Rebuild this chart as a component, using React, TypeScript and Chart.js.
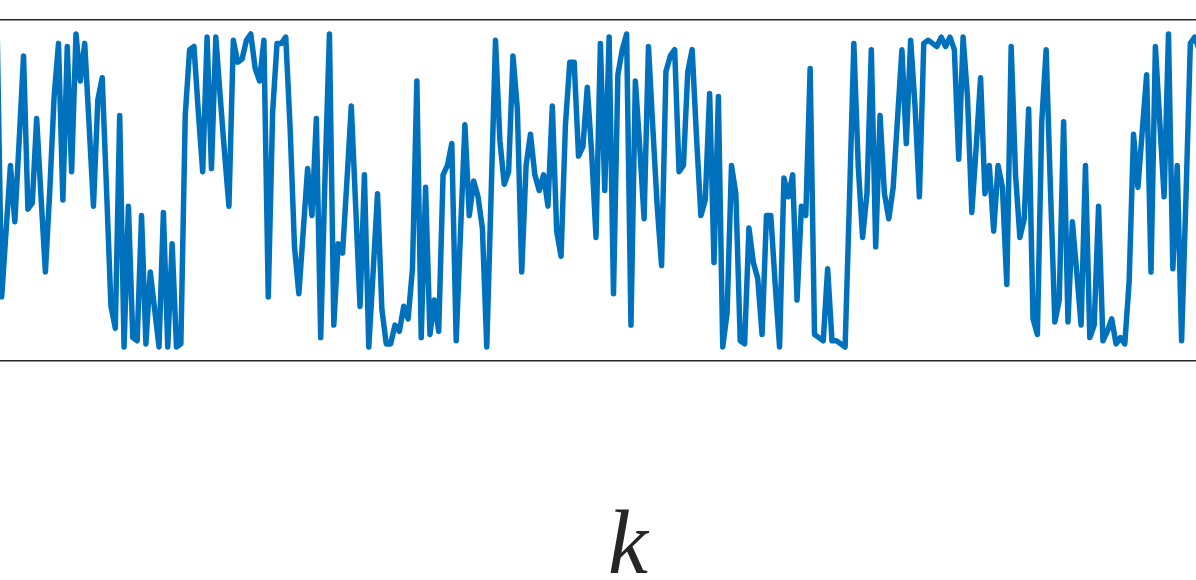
import React, { useEffect, useRef } from "react";
import { Chart, registerables } from "chart.js";

Chart.register(...registerables);

// Series values (k = 0, 1, 2, ...)
const seriesValues: number[] = [
  0.98, 0.16, 0.37, 0.58, 0.40, 0.66, 0.93, 0.44, 0.46, 0.73,
  0.48, 0.24, 0.50, 0.80, 0.97, 0.47, 0.96, 0.56, 1.00, 0.85,
  0.97, 0.71, 0.45, 0.79, 0.86, 0.50, 0.13, 0.06, 0.74, 0.00,
  0.45, 0.03, 0.02, 0.42, 0.01, 0.24, 0.12, 0.00, 0.43, 0.00,
  0.33, 0.00, 0.01, 0.74, 0.95, 0.96, 0.75, 0.56, 0.99, 0.57,
  0.99, 0.80, 0.62, 0.45, 0.98, 0.91, 0.92, 0.98, 1.00, 0.89,
  0.85, 0.98, 0.16, 0.75, 0.97, 0.97, 0.99, 0.70, 0.32, 0.17,
  0.37, 0.57, 0.42, 0.73, 0.03, 0.55, 1.00, 0.07, 0.33, 0.30,
  0.53, 0.77, 0.45, 0.13, 0.55, 0.00, 0.24, 0.49, 0.12, 0.01,
  0.01, 0.07, 0.05, 0.13, 0.09, 0.25, 0.85, 0.03, 0.51, 0.04,
  0.15, 0.05, 0.55, 0.58, 0.65, 0.02, 0.37, 0.71, 0.42, 0.53,
  0.48, 0.38, 0.00, 0.49, 0.98, 0.66, 0.52, 0.56, 0.93, 0.76,
  0.24, 0.58, 0.68, 0.55, 0.50, 0.55, 0.45, 0.77, 0.37, 0.29,
  0.71, 0.91, 0.91, 0.61, 0.64, 0.83, 0.62, 0.35, 0.97, 0.50,
  0.99, 0.17, 0.87, 0.95, 1.00, 0.07, 0.85, 0.64, 0.41, 0.96,
  0.70, 0.45, 0.26, 0.88, 0.93, 0.95, 0.56, 0.58, 0.88, 0.95,
  0.67, 0.42, 0.47, 0.81, 0.27, 0.80, 0.00, 0.11, 0.58, 0.49,
  0.02, 0.01, 0.38, 0.27, 0.22, 0.04, 0.42, 0.42, 0.20, 0.00,
  0.54, 0.48, 0.55, 0.15, 0.45, 0.42, 0.89, 0.04, 0.03, 0.02,
  0.25, 0.02, 0.02, 0.01, 0.00, 0.47, 0.97, 0.58, 0.35, 0.49,
  0.95, 0.32, 0.74, 0.49, 0.41, 0.51, 0.73, 0.95, 0.65, 0.98,
  0.77, 0.48, 0.97, 0.98, 0.97, 0.96, 0.99, 0.96, 0.99, 0.95,
  0.60, 0.99, 0.80, 0.43, 0.64, 0.86, 0.49, 0.58, 0.37, 0.58,
  0.51, 0.20, 0.96, 0.55, 0.35, 0.41, 0.76, 0.09, 0.04, 0.72,
  0.95, 0.50, 0.08, 0.15, 0.72, 0.08, 0.40, 0.24, 0.07, 0.58,
  0.03, 0.07, 0.45, 0.02, 0.05, 0.09, 0.01, 0.03, 0.01, 0.21,
  0.68, 0.51, 0.69, 0.87, 0.24, 0.96, 0.72, 0.48, 1.00, 0.25,
  0.58, 0.02, 0.48, 0.97, 0.99, 0.95,
];

// Category positions (k index of each value)
const kCategories: number[] = seriesValues.map((_, i) => i);

const xAxisTitle = "k";

const CANVAS_W = 1256;
const CANVAS_H = 620;

export default function App() {
  const canvasRef = useRef<HTMLCanvasElement | null>(null);

  useEffect(() => {
    const canvas = canvasRef.current;
    if (!canvas) return;
    const points = kCategories.map((k, i) => ({ x: k, y: seriesValues[i] }));
    const xMin = 0.611;
    const xMax = xMin + CANVAS_W / 4.37;
    const chart = new Chart(canvas, {
      type: "line",
      data: {
        datasets: [
          {
            data: points,
            borderColor: "#0072BD",
            backgroundColor: "#0072BD",
            borderWidth: 5.5,
            pointRadius: 0,
            tension: 0,
            borderJoinStyle: "round",
            borderCapStyle: "round",
            fill: false,
          },
        ],
      },
      options: {
        animation: false,
        responsive: false,
        devicePixelRatio: 1,
        layout: { padding: { top: 20, left: 0, right: 0, bottom: 0 } },
        plugins: {
          legend: { display: false },
          tooltip: { enabled: false },
        },
        scales: {
          x: {
            type: "linear",
            position: "bottom",
            min: xMin,
            max: xMax,
            ticks: { display: false },
            grid: { display: false, drawTicks: false },
            border: { display: true, color: "#262626", width: 1.5 },
            title: {
              display: true,
              text: xAxisTitle,
              color: "#262626",
              font: {
                family: "'Liberation Serif', 'DejaVu Serif', serif",
                style: "italic",
                size: 90,
                lineHeight: 1,
              },
              padding: { top: 143, bottom: 26 },
            },
          },
          xTop: {
            type: "linear",
            position: "top",
            min: xMin,
            max: xMax,
            ticks: { display: false },
            grid: { display: false, drawTicks: false },
            border: { display: true, color: "#262626", width: 1.5 },
          },
          y: {
            type: "linear",
            display: false,
            min: -0.0447,
            max: 1.0447,
          },
        },
      },
    });
    return () => chart.destroy();
  }, []);

  return (
    <div
      style={{
        position: "fixed",
        left: 0,
        top: 0,
        width: 1196,
        height: 580,
        overflow: "hidden",
        background: "#ffffff",
      }}
    >
      <canvas
        ref={canvasRef}
        width={CANVAS_W}
        height={CANVAS_H}
        style={{ width: CANVAS_W, height: CANVAS_H, display: "block" }}
      />
    </div>
  );
}
